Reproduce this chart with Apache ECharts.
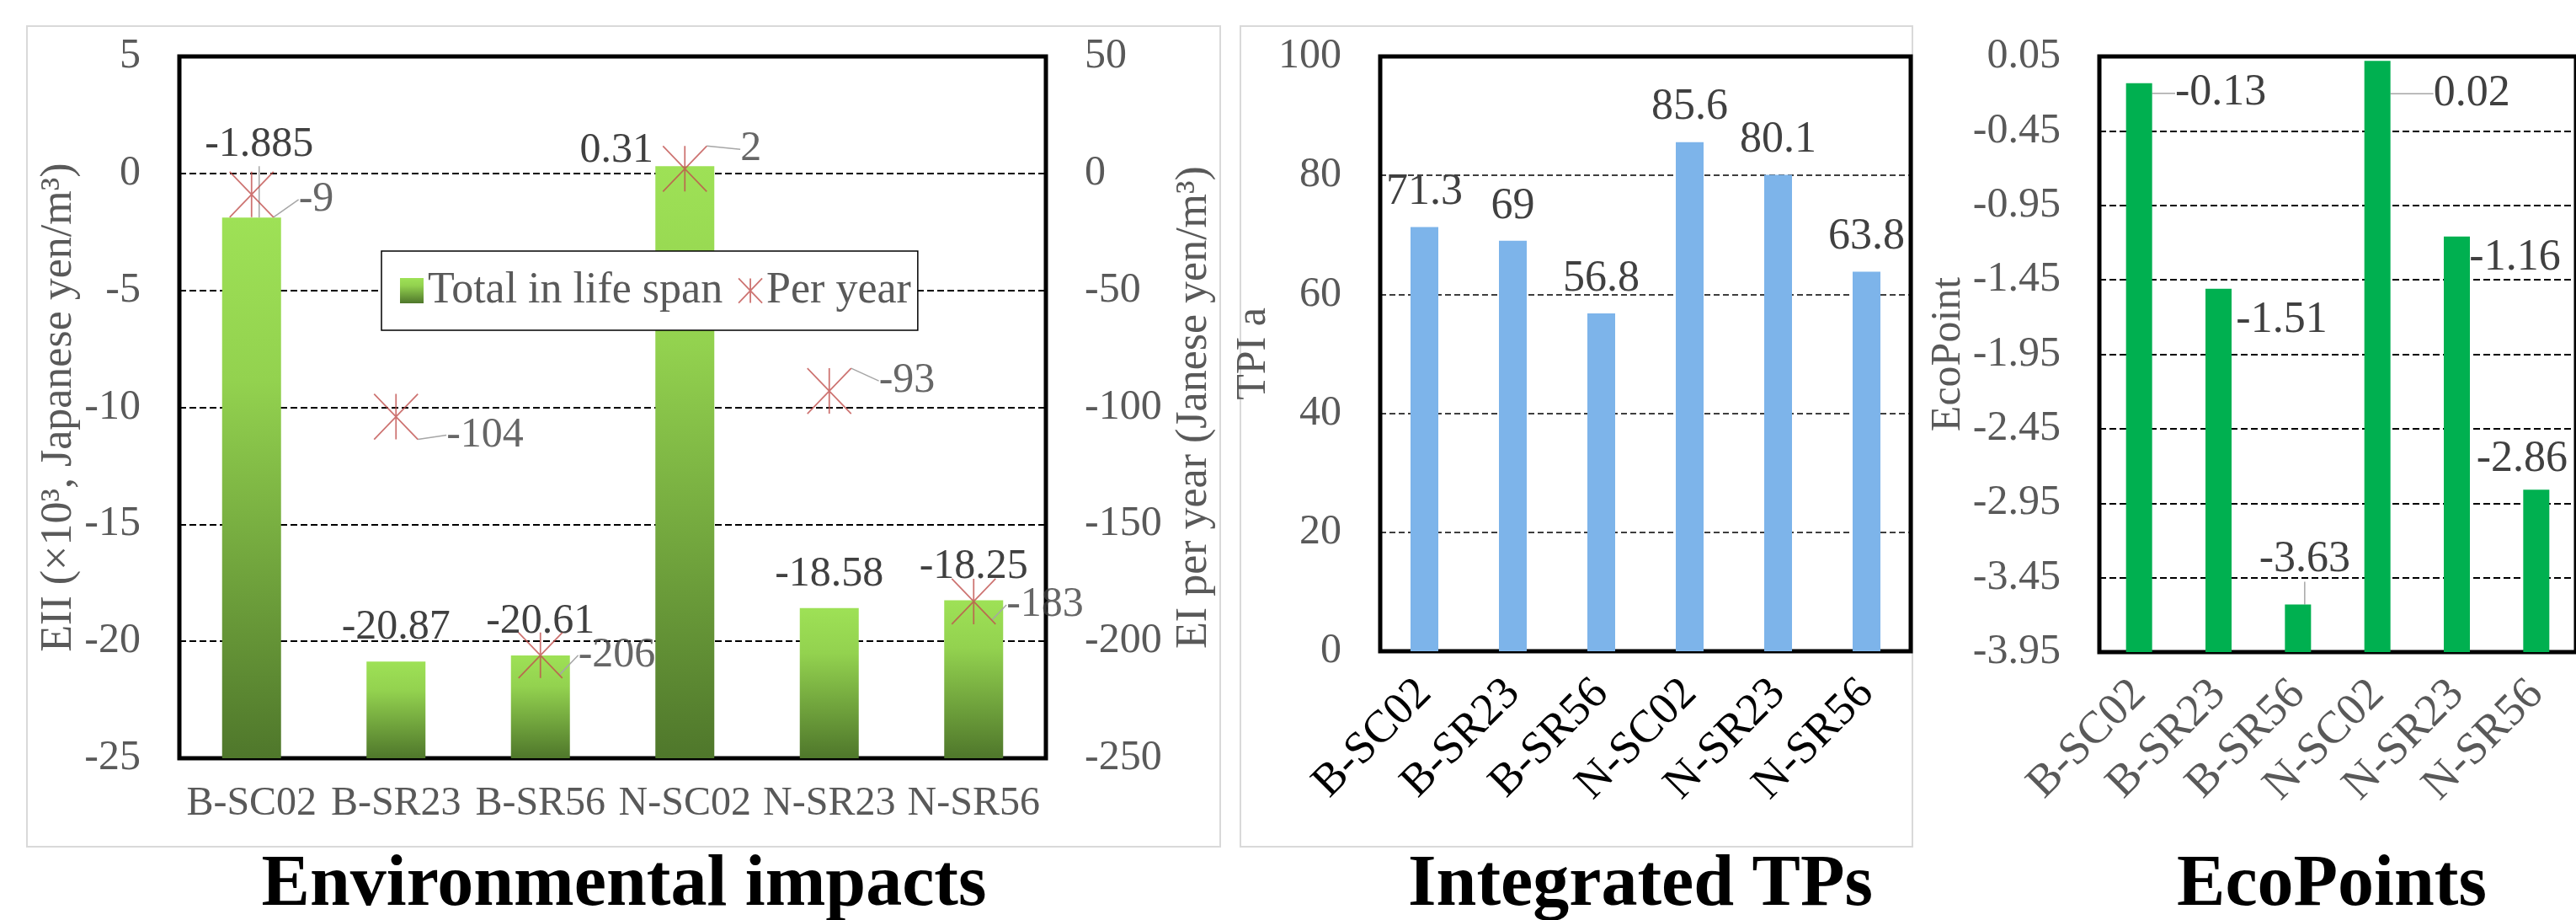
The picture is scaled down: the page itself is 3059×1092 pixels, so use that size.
<!DOCTYPE html>
<html><head><meta charset="utf-8">
<script src="https://cdn.jsdelivr.net/npm/echarts@6/dist/echarts.min.js"></script>
<style>html,body{margin:0;padding:0;background:#fff;} #c{width:3059px;height:1092px;}</style>
</head><body><div id="c"></div>
<script>
// ---------- data ----------
const categories = ['B-SC02','B-SR23','B-SR56','N-SC02','N-SR23','N-SR56'];
const eiiTotal   = [-1.885, -20.87, -20.61, 0.31, -18.58, -18.25];   // ×10^3 yen/m3, life span
const eiPerYear  = [-9, -104, -206, 2, -93, -183];                   // yen/m3 per year
const tpiValues  = [71.3, 69, 56.8, 85.6, 80.1, 63.8];
const ecoPoints  = [-0.13, -1.51, -3.63, 0.02, -1.16, -2.86];
const ecoTicks   = [-3.95, -3.45, -2.95, -2.45, -1.95, -1.45, -0.95, -0.45, 0.05];
const seriesNames = ['Total in life span', 'Per year'];
const panelTitles = ['Environmental impacts', 'Integrated TPs', 'EcoPoints'];
const axisNames = {
  eii: 'EII (×10³, Japanese yen/m³)',
  eiYear: 'EI per year (Janese yen/m³)',
  tpi: 'TPI a',
  eco: 'EcoPoint'
};

// ---------- label placement (style only) ----------
const totalLabelShift = [[9,-46],[0,0],[0,0],[-81,22],[0,0],[0,0]];
const totalLeader     = [true,false,false,false,false,false];
const yearLabelShift  = [[24,6],[28,22],[13,0],[34,-23],[27,-12],[7,4]];
const ecoLabelShift   = [[97,53],[75,79],[8,-12],[112,80],[69,66],[-17,5]];
const ecoLeader       = [true,false,true,true,false,false];

const FONT = 'Liberation Serif';
const GRAY = '#595959';
const LABEL = '#404040';
const LEADER = {show:true, lineStyle:{color:'#a6a6a6', width:1.5}};
const STAR = 'path://M0 0L52 54M52 0L0 54M26 0L26 54';
const greenGrad = new echarts.graphic.LinearGradient(0,0,0,1,[
  {offset:0, color:'#9ee156'},{offset:0.3, color:'#93d24f'},{offset:1, color:'#4f772b'}
]);
const dashed = {show:true, showMinLine:false, showMaxLine:false, lineStyle:{color:'#000', type:[8,4], width:2}};

const chart = echarts.init(document.getElementById('c'), null, {renderer:'canvas'});

function valueAxisBase(extra){
  return Object.assign({
    type:'value', axisLine:{show:false}, axisTick:{show:false},
    nameLocation:'middle', nameRotate:90,
    nameTextStyle:{fontSize:52, color:GRAY, fontFamily:FONT},
    axisLabel:{fontSize:50, color:GRAY, fontFamily:FONT, margin:46},
    splitLine: dashed
  }, extra);
}

const option = {
  animation:false,
  backgroundColor:'#fff',
  textStyle:{fontFamily:FONT},
  grid:[
    {left:213, top:67, width:1029, height:833, show:true, borderColor:'#000', borderWidth:5, backgroundColor:'transparent'},
    {left:1639, top:67, width:630, height:706, show:true, borderColor:'#000', borderWidth:5, backgroundColor:'transparent'},
    {left:2493, top:67, width:582, height:707, show:true, borderColor:'#000', borderWidth:5, backgroundColor:'transparent'}
  ],
  xAxis:[
    {gridIndex:0, type:'category', data:categories, axisLine:{show:false}, axisTick:{show:false},
     axisLabel:{interval:0, fontSize:48, color:GRAY, fontFamily:FONT, margin:30}},
    {gridIndex:1, type:'category', data:categories, axisLine:{show:false}, axisTick:{show:false},
     axisLabel:{interval:0, fontSize:54, color:'#000', fontFamily:FONT, rotate:45, margin:42}},
    {gridIndex:2, type:'category', data:categories, axisLine:{show:false}, axisTick:{show:false},
     axisLabel:{interval:0, fontSize:54, color:GRAY, fontFamily:FONT, rotate:45, margin:42}}
  ],
  yAxis:[
    valueAxisBase({gridIndex:0, min:-25, max:5, interval:5, startValue:-25, position:'left',
      name:axisNames.eii, nameGap:108}),
    valueAxisBase({gridIndex:0, min:-250, max:50, interval:50, position:'right',
      name:axisNames.eiYear, nameGap:150, splitLine:{show:false}}),
    valueAxisBase({gridIndex:1, min:0, max:100, interval:20, position:'left',
      name:axisNames.tpi, nameGap:86,
      axisLabel:{fontSize:50, color:GRAY, fontFamily:FONT, margin:46},
      nameTextStyle:{fontSize:50, color:GRAY, fontFamily:FONT},
      splitLine:{show:true, showMinLine:false, showMaxLine:false, lineStyle:{color:'#000', type:[7,4], width:1.5}}}),
    valueAxisBase({gridIndex:2, min:-3.95, max:0.05, startValue:-3.95, position:'left',
      name:axisNames.eco, nameGap:152,
      axisLabel:{fontSize:50, color:GRAY, fontFamily:FONT, margin:46, customValues:ecoTicks},
      axisTick:{show:false, customValues:ecoTicks},
      nameTextStyle:{fontSize:50, color:GRAY, fontFamily:FONT}})
  ],
  legend:{
    left:453, top:298, orient:'horizontal',
    backgroundColor:'#fff', borderColor:'#000', borderWidth:1.5, borderRadius:0,
    padding:[21,8,21,22], itemGap:18, itemWidth:28, itemHeight:30,
    textStyle:{fontSize:52, color:GRAY, fontFamily:FONT},
    data:[
      {name:seriesNames[0], icon:'rect'},
      {name:seriesNames[1], icon:STAR, itemStyle:{color:'rgba(0,0,0,0)', borderColor:'#C0504D', borderWidth:1.8}}
    ]
  },
  graphic:[
    {type:'rect', z:-10, shape:{x:32, y:31, width:1417, height:974}, style:{fill:'none', stroke:'#d9d9d9', lineWidth:2}},
    {type:'rect', z:-10, shape:{x:1473, y:31, width:798, height:974}, style:{fill:'none', stroke:'#d9d9d9', lineWidth:2}},
    {type:'text', x:741, y:1052, style:{text:panelTitles[0], fontSize:86, fontWeight:'bold', fontFamily:FONT, fill:'#000', align:'center', verticalAlign:'middle'}},
    {type:'text', x:1948, y:1052, style:{text:panelTitles[1], fontSize:86, fontWeight:'bold', fontFamily:FONT, fill:'#000', align:'center', verticalAlign:'middle'}},
    {type:'text', x:2769, y:1052, style:{text:panelTitles[2], fontSize:86, fontWeight:'bold', fontFamily:FONT, fill:'#000', align:'center', verticalAlign:'middle'}}
  ],
  series:[
    {
      name:seriesNames[0], type:'bar', xAxisIndex:0, yAxisIndex:0, barWidth:70,
      itemStyle:{color:greenGrad},
      data: eiiTotal.map((v,i)=>({value:v, labelLine: totalLeader[i] ? LEADER : {show:false}})),
      label:{show:true, position:'top', distance:15, fontSize:50, color:LABEL, fontFamily:FONT},
      labelLayout:(p)=>({dx:totalLabelShift[p.dataIndex][0], dy:totalLabelShift[p.dataIndex][1]})
    },
    {
      name:seriesNames[1], type:'scatter', xAxisIndex:0, yAxisIndex:1,
      symbol:STAR, symbolSize:[52,54], z:5,
      itemStyle:{color:'rgba(0,0,0,0)', borderColor:'#C0504D', borderWidth:1.8},
      data: eiPerYear,
      label:{show:true, position:'right', distance:5, fontSize:50, color:LABEL, fontFamily:FONT},
      labelLine: LEADER,
      labelLayout:(p)=>({dx:yearLabelShift[p.dataIndex][0], dy:yearLabelShift[p.dataIndex][1]})
    },
    {
      name:'TPI', type:'bar', xAxisIndex:1, yAxisIndex:2, barWidth:33,
      itemStyle:{color:'#7db4ea'},
      data: tpiValues,
      label:{show:true, position:'top', distance:15, fontSize:52, color:LABEL, fontFamily:FONT}
    },
    {
      name:'EcoPoint', type:'bar', xAxisIndex:2, yAxisIndex:3, barWidth:31,
      itemStyle:{color:'#00b050'},
      data: ecoPoints.map((v,i)=>({value:v, labelLine: ecoLeader[i] ? LEADER : {show:false}})),
      label:{show:true, position:'top', distance:15, fontSize:52, color:LABEL, fontFamily:FONT},
      labelLayout:(p)=>({dx:ecoLabelShift[p.dataIndex][0], dy:ecoLabelShift[p.dataIndex][1]})
    }
  ]
};
chart.setOption(option);
</script>
</body></html>
